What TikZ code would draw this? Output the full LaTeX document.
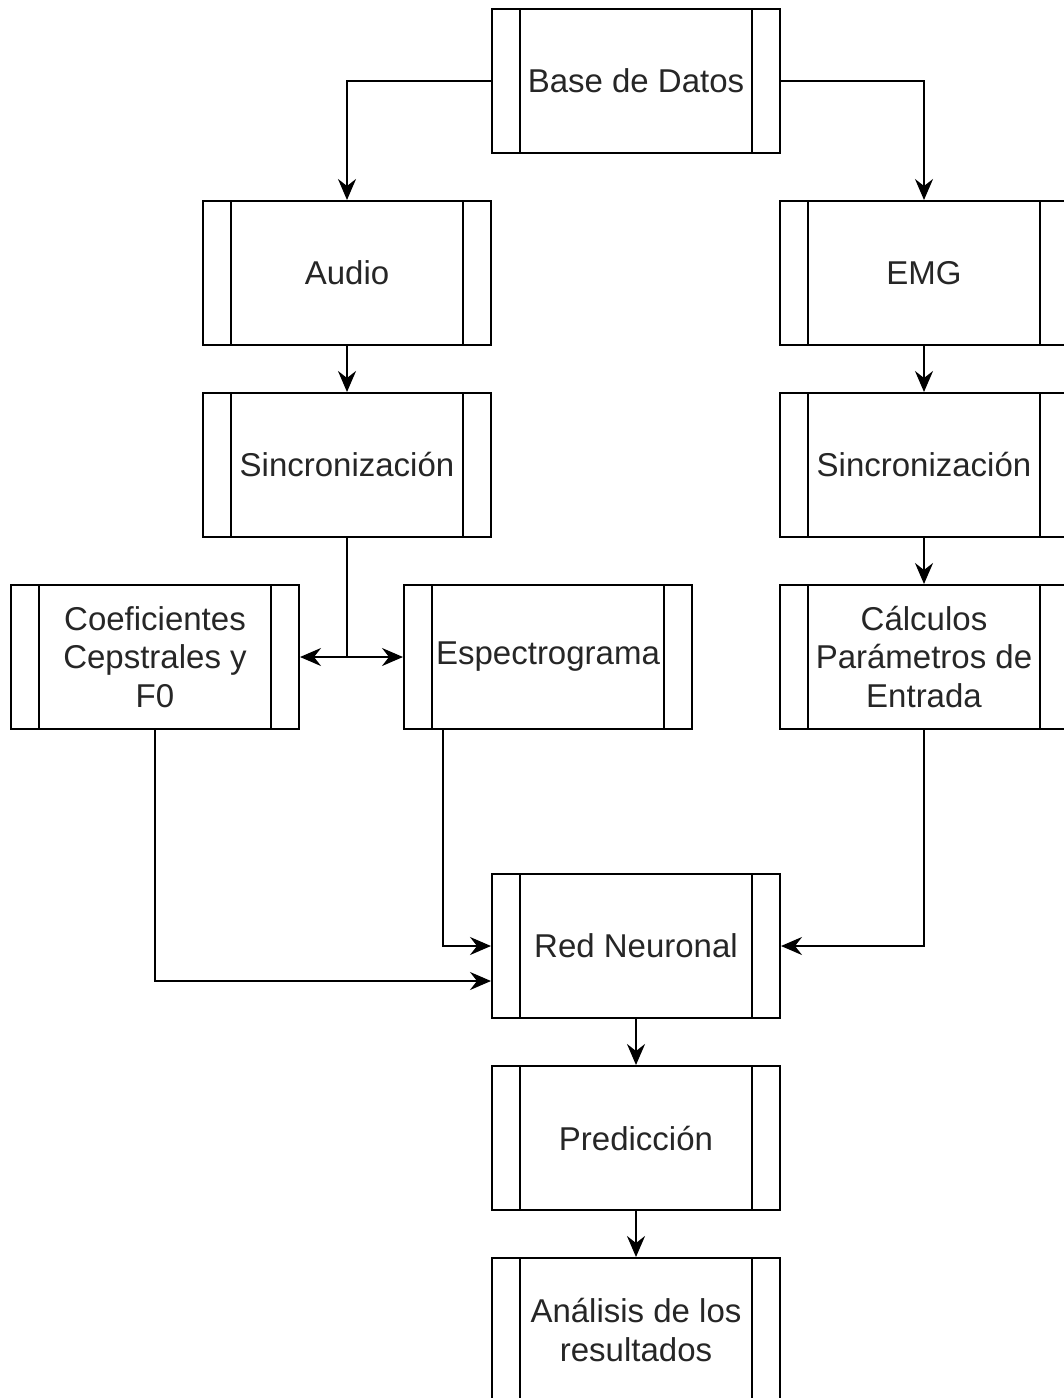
\documentclass[tikz,border=0pt]{standalone}
\usepackage{fontspec}
\setmainfont{Liberation Sans}
\usetikzlibrary{arrows.meta}
\begin{document}
\begin{tikzpicture}[x=1pt,y=-1pt,
  proc/.style={draw=black,line width=2pt,fill=white,rectangle,minimum width=288pt,minimum height=144pt,inner sep=0pt,align=center,
    font=\fontsize{33}{38.5}\selectfont,text=black!85},
  arr/.style={line width=2pt,-{Stealth[length=21pt,width=18pt,inset=7pt]}},
  lin/.style={line width=2pt}]
\useasboundingbox (0,0) rectangle (1064,1398);
\fill[white] (0,0) rectangle (1064,1398);
\node[proc] (base) at (636,81) {Base de Datos};
\node[proc] (audio) at (347,273) {Audio};
\node[proc] (emg) at (924,273) {EMG};
\node[proc] (sincl) at (347,465) {Sincronización};
\node[proc] (sincr) at (924,465) {Sincronización};
\node[proc] (coef) at (155,657) {Coeficientes\\Cepstrales y\\F0};
\node[proc] (esp) at (548,657) {Espectrograma};
\node[proc] (calc) at (924,657) {Cálculos\\Parámetros de\\Entrada};
\node[proc] (red) at (636,946) {Red Neuronal};
\node[proc] (pred) at (636,1138) {Predicción};
\node[proc] (anal) at (636,1330) {Análisis de los\\resultados};
\foreach \n in {base,audio,emg,sincl,sincr,coef,esp,calc,red,pred,anal}{
  \draw[lin] ([xshift=29pt]\n.north west) -- ([xshift=29pt]\n.south west);
  \draw[lin] ([xshift=-29pt]\n.north east) -- ([xshift=-29pt]\n.south east);
}
\draw[arr] (base.west) -| (audio.north);
\draw[arr] (base.east) -| (emg.north);
\draw[arr] (audio.south) -- (sincl.north);
\draw[arr] (emg.south) -- (sincr.north);
\draw[arr] (sincr.south) -- (calc.north);
\coordinate (j) at (347,657);
\draw[lin] (sincl.south) -- (j);
\draw[arr] (j) -- (coef.east);
\draw[arr] (j) -- (esp.west);
\draw[arr] ([xshift=-105pt]esp.south) |- (red.west);
\draw[arr] (coef.south) |- ([yshift=-35pt]red.west);
\draw[arr] (calc.south) |- (red.east);
\draw[arr] (red.south) -- (pred.north);
\draw[arr] (pred.south) -- (anal.north);
\end{tikzpicture}
\end{document}
